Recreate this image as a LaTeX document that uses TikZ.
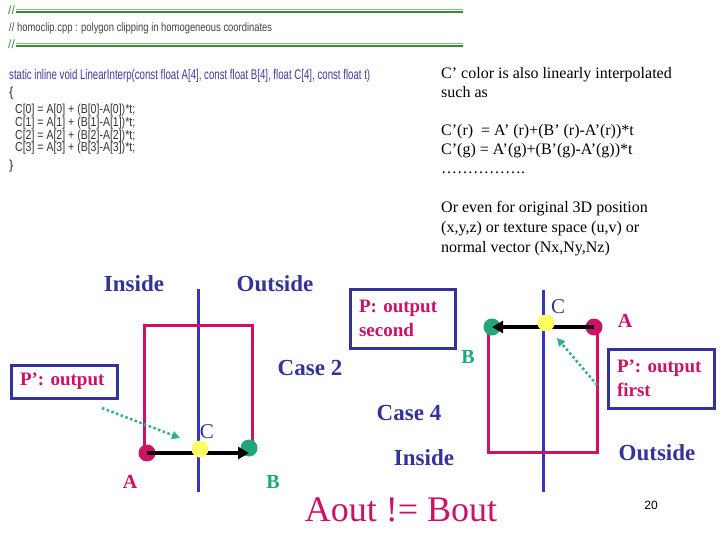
\documentclass[tikz,border=0pt]{standalone}
\usepackage{fontspec}
\setmainfont{Liberation Serif}
\newfontfamily\codefont{Liberation Sans}
\usepackage{graphicx}
\usetikzlibrary{arrows.meta}
\definecolor{labblue}{HTML}{333399}
\definecolor{lineblue}{HTML}{3535C0}
\definecolor{crim}{HTML}{CC1166}
\definecolor{dotgreen}{HTML}{1FA67A}
\definecolor{dotyellow}{HTML}{FFFF66}
\definecolor{tealarrow}{HTML}{30B090}
\definecolor{hdrgreenA}{HTML}{80C080}
\definecolor{hdrgreenB}{HTML}{3A8A3A}
\definecolor{hdrtext}{HTML}{3A4A3A}
\definecolor{codeblue}{HTML}{3C3CA0}
\definecolor{codegray}{HTML}{333333}
\newcommand\fitw[2]{\resizebox{#1}{\height}{#2}}
\begin{document}
\begin{tikzpicture}[x=1pt,y=-1pt,
  txt/.style={inner sep=0pt, anchor=west},
  code/.style={txt, font=\codefont\fontsize{13}{13}\selectfont, text=codegray},
  hdr/.style={txt, font=\codefont\fontsize{12}{12}\selectfont, text=hdrtext},
  body/.style={inner sep=0pt, anchor=base west, font=\fontsize{16}{16}\selectfont},
  lab/.style={inner sep=0pt, font=\bfseries\fontsize{23}{23}\selectfont, text=labblue},
  ptlab/.style={inner sep=0pt, font=\bfseries\fontsize{20}{20}\selectfont},
  clab/.style={inner sep=0pt, font=\fontsize{21}{21}\selectfont, text=labblue},
  pbox/.style={draw=labblue, line width=3pt, font=\bfseries\fontsize{19}{24}\selectfont, text=crim, align=left, inner xsep=9pt, inner ysep=0pt},
  dot/.style={circle, minimum size=17pt, inner sep=0pt},
  clipline/.style={draw=lineblue, line width=3pt},
  poly/.style={draw=crim, line width=3pt},
  edgearrow/.style={line width=4.5pt, -{Triangle[length=11pt,width=12pt]}},
  hint/.style={draw=tealarrow, line width=2.5pt, dash pattern=on 2.5pt off 2.5pt, -{Triangle[length=8pt,width=8pt]}},
]
\useasboundingbox (0,0) rectangle (720,540);
\fill[white] (0,0) rectangle (720,540);

% header
\node[hdr, text=hdrgreenB] (s1) at (8,10) {//};
\draw[hdrgreenA, line width=1pt] (16,9.3) -- (463,9.3);
\draw[hdrgreenB, line width=1.2pt] (16,12) -- (463,12);
\node[hdr] (h2) at (9,28) {\fitw{263pt}{// homoclip.cpp : polygon clipping in homogeneous coordinates}};
\node[hdr, text=hdrgreenB] (s3) at (8,44) {//};
\draw[hdrgreenA, line width=1pt] (16,43.3) -- (463,43.3);
\draw[hdrgreenB, line width=1.2pt] (16,46) -- (463,46);

% code
\node[code, text=codeblue, font=\codefont\fontsize{14}{14}\selectfont] (c1) at (9,76) {\fitw{361pt}{static inline void LinearInterp(const float A[4], const float B[4], float C[4], const float t)}};
\node[code] (c2) at (9,93) {\{};
\node[code] (c3) at (15,110) {\fitw{120pt}{C[0] = A[0] + (B[0]-A[0])*t;}};
\node[code] (c4) at (15,123) {\fitw{120pt}{C[1] = A[1] + (B[1]-A[1])*t;}};
\node[code] (c5) at (15,136) {\fitw{120pt}{C[2] = A[2] + (B[2]-A[2])*t;}};
\node[code] (c6) at (15,148.5) {\fitw{120pt}{C[3] = A[3] + (B[3]-A[3])*t;}};
\node[code] (c7) at (9,166) {\}};

% explanation text
\node[body] (t1) at (441,79) {C’ color is also linearly interpolated};
\node[body] (t2) at (441,98) {such as};
\node[body] (t3) at (441,136) {C’(r) \ = A’ (r)+(B’ (r)-A’(r))*t};
\node[body] (t4) at (441,155) {C’(g) = A’(g)+(B’(g)-A’(g))*t};
\node[body] (t5) at (441,174) {…………….};
\node[body] (t6) at (441,213) {Or even for original 3D position};
\node[body] (t7) at (441,233) {(x,y,z) or texture space (u,v) or};
\node[body] (t8) at (441,252) {normal vector (Nx,Ny,Nz)};

% ---------- Case 2 ----------
\node[lab] (in2) at (134,284) {Inside};
\node[lab] (out2) at (275,284) {Outside};
\node[lab] (case2) at (310,368) {Case 2};
\draw[clipline] (198,289) -- (198,492);
\draw[poly] (144,447) -- (144,325) -- (252,325) -- (252,442);
\node[pbox, text width=88pt, minimum height=33pt] (box2) at (64,381.5) {P’: output};
\node[dot, fill=crim] (A2) at (147,453) {};
\node[dot, fill=dotgreen] (B2) at (249,448) {};
\draw[edgearrow] (A2.center) -- (A2.center -| B2.center);
\node[dot, fill=dotyellow] (C2) at (200,449) {};
\node[clab] (cl2) at (207,432) {C};
\node[ptlab, text=crim] (al2) at (130,482) {A};
\node[ptlab, text=dotgreen] (bl2) at (273,482) {B};
\coordinate (h2s) at (102,408);
\coordinate (h2e) at (180,438);
\draw[hint] (h2s) -- (h2e);

% ---------- Case 4 ----------
\node[lab] (case4) at (409,413) {Case 4};
\node[lab] (in4) at (424,458) {Inside};
\node[lab] (out4) at (657,453) {Outside};
\draw[clipline] (543,290) -- (543,492);
\draw[poly] (488,332) -- (488,452) -- (597,452) -- (597,332);
\node[pbox, text width=87pt, minimum height=59pt] (box4a) at (402.5,318.5) {P: output\\second};
\node[pbox, text width=88pt, minimum height=59pt] (box4b) at (661,378.5) {P’: output\\first};
\node[dot, fill=crim] (A4) at (594,327) {};
\node[dot, fill=dotgreen] (B4) at (492,327) {};
\draw[edgearrow] (A4.center) -- (A4.center -| B4.center);
\node[dot, fill=dotyellow] (C4) at (546,323) {};
\node[clab] (cl4) at (558,307) {C};
\node[ptlab, text=crim] (al4) at (625,321) {A};
\node[ptlab, text=dotgreen] (bl4) at (468,357) {B};
\coordinate (h4s) at (597,385);
\coordinate (h4e) at (557,338);
\draw[hint] (h4s) -- (h4e);

% bottom
\node[inner sep=0pt, text=crim, font=\fontsize{36}{36}\selectfont] (neq) at (401,510) {Aout != Bout};
\node[inner sep=0pt, font=\codefont\fontsize{12}{12}\selectfont] (pg) at (651,505) {20};
\end{tikzpicture}
\end{document}
